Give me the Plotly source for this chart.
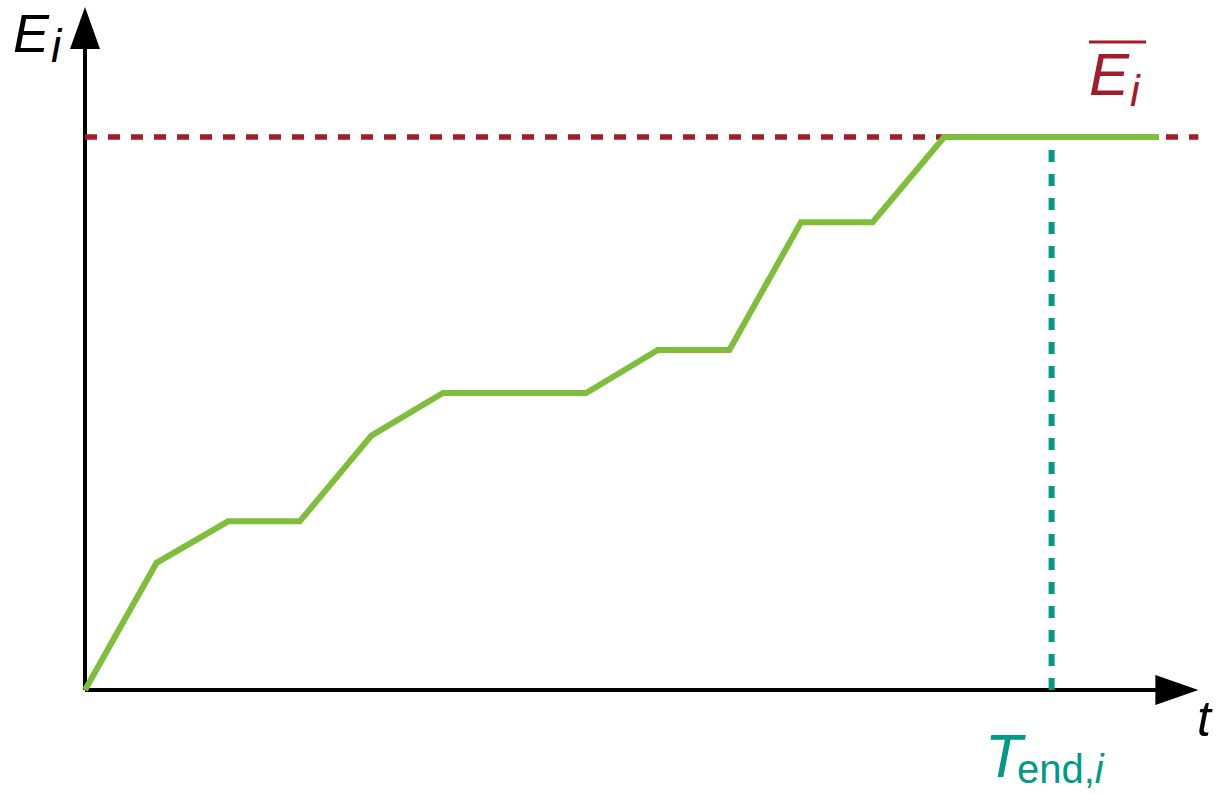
import plotly.graph_objects as go

# Data (time units, energy units)
t_vals = [0, 1, 2, 3, 4, 5, 7, 8, 9, 10, 11, 12, 15]
e_vals = [0, 2.3, 3.05, 3.05, 4.6, 5.37, 5.37, 6.15, 6.15, 8.46, 8.46, 10, 10]
E_max = 10
T_end = 13.5
t_axis_end = 15.55
e_axis_end = 12.35

GREEN = "#7fbe3a"
RED = "#a21d2b"
TEAL = "#009a87"
FONT = "Liberation Sans, Arial, sans-serif"

fig = go.Figure()

# Red dashed upper bound
fig.add_trace(go.Scatter(x=[0, t_axis_end], y=[E_max, E_max], mode="lines",
                         line=dict(color=RED, width=5.5, dash="12px,11px"),
                         hoverinfo="skip", showlegend=False))
# Teal dotted vertical
fig.add_trace(go.Scatter(x=[T_end, T_end], y=[0, E_max], mode="lines",
                         line=dict(color=TEAL, width=6, dash="12px,12px"),
                         hoverinfo="skip", showlegend=False))
# Green energy curve
fig.add_trace(go.Scatter(x=t_vals, y=e_vals, mode="lines",
                         line=dict(color=GREEN, width=6),
                         hoverinfo="skip", showlegend=False))

shapes = [
    dict(type="line", x0=0, y0=0, x1=t_axis_end - 0.3, y1=0, line=dict(color="black", width=4), layer="below"),
    dict(type="line", x0=0, y0=0, x1=0, y1=e_axis_end - 0.3, line=dict(color="black", width=4), layer="below"),
    dict(type="path", xsizemode="pixel", ysizemode="pixel", xanchor=0, yanchor=e_axis_end,
         path="M 0 0 L -15 -42 L 15 -42 Z", fillcolor="black", line=dict(width=0)),
    dict(type="path", xsizemode="pixel", ysizemode="pixel", xanchor=t_axis_end, yanchor=0,
         path="M 0 0 L -43 15 L -43 -15 Z", fillcolor="black", line=dict(width=0)),
    dict(type="line", xref="paper", yref="paper", x0=1089/1229, x1=1146/1229,
         y0=1 - 42/794, y1=1 - 42/794, line=dict(color=RED, width=3)),
]


def lab(x, y, text, size, color):
    return dict(x=x/1229, y=1 - y/794, xref="paper", yref="paper", xanchor="left", yanchor="middle",
                text=text, showarrow=False, borderpad=0,
                font=dict(family=FONT, size=size, color=color))


annotations = [
    lab(12, 33, "<i>E</i>", 54, "black"),
    lab(50, 46, "<i>i</i>", 46, "black"),
    lab(1088, 74, "<i>E</i>", 60, RED),
    lab(1129, 90, "<i>i</i>", 44, RED),
    lab(1196, 719, "<i>t</i>", 50, "black"),
    lab(984, 756, "<i>T</i>", 61, TEAL),
    lab(1016, 769, "end,<i>i</i>", 40, TEAL),
]

# px = 85 + 71.6 t ; py = 690 - 55.3 E
fig.update_layout(
    width=1229, height=794,
    margin=dict(l=0, r=0, t=0, b=0),
    paper_bgcolor="white", plot_bgcolor="white",
    xaxis=dict(range=[-85/71.6, (1229-85)/71.6], visible=False, fixedrange=True),
    yaxis=dict(range=[-104/55.3, 690/55.3], visible=False, fixedrange=True),
    shapes=shapes, annotations=annotations,
)

fig.write_html("out.html")
